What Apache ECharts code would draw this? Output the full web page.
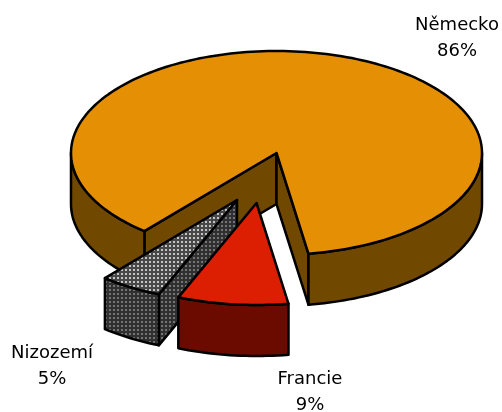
<!DOCTYPE html>
<html><head><meta charset="utf-8">
<style>html,body{margin:0;padding:0;background:#fff}#c{width:502px;height:412px}</style>
<script src="https://cdn.jsdelivr.net/npm/echarts@6/dist/echarts.min.js"></script>
</head><body><div id="c"></div>
<script>
var categories = ['Německo', 'Francie', 'Nizozemí'];
var values = [86.4, 8.7, 4.9];
var startAngle = 130;
var centerX = 276.5, centerY = 153, radiusX = 205.5, radiusY = 102, depth = 51;
var offsets = [[0, 0], [-20, 50], [-39.5, 47]];
var labelAnchors = [[457, 38], [310, 392], [52, 366]];
var layerOrder = [0, 2, 1];

function pattern(bg, dot) {
  var c = document.createElement('canvas');
  c.width = 4; c.height = 4;
  var g = c.getContext('2d');
  g.fillStyle = bg; g.fillRect(0, 0, 4, 4);
  g.fillStyle = dot; g.fillRect(1, 1, 2, 2);
  return c;
}
var topFills = ['#E59004', '#DC1E02', {image: pattern('#484848', '#c4c4c4'), repeat: 'repeat'}];
var wallFills = ['#714800', '#6B0B00', {image: pattern('#303030', '#747474'), repeat: 'repeat'}];

var total = values.reduce(function (a, b) { return a + b; }, 0);
var spans = [], acc = startAngle;
values.forEach(function (v) { var s = v / total * 360; spans.push([acc, acc + s]); acc += s; });

function pt(cx, cy, a) {
  var r = a * Math.PI / 180;
  return [cx + radiusX * Math.cos(r), cy + radiusY * Math.sin(r)];
}
function arcPts(cx, cy, a0, a1) {
  var n = Math.max(2, Math.ceil(Math.abs(a1 - a0) / 1.5)), out = [];
  for (var i = 0; i <= n; i++) out.push(pt(cx, cy, a0 + (a1 - a0) * i / n));
  return out;
}
function poly(points, fill, z2) {
  return {type: 'polygon', z2: z2, shape: {points: points},
    style: {fill: fill, stroke: '#000', lineWidth: 2.5, lineJoin: 'round'}};
}

function renderItem(params) {
  var i = params.dataIndex;
  var o = offsets[i], cx = centerX + o[0], cy = centerY + o[1];
  var a0 = spans[i][0], a1 = spans[i][1];
  var base = layerOrder.indexOf(i) * 10;
  var kids = [];
  // cut faces, only the ones turned towards the viewer
  function cutFace(a) {
    var p = pt(cx, cy, a);
    kids.push(poly([[cx, cy], p, [p[0], p[1] + depth], [cx, cy + depth]], wallFills[i], base + 1));
  }
  if (Math.cos(a0 * Math.PI / 180) < 0) cutFace(a0);
  if (Math.cos(a1 * Math.PI / 180) > 0) cutFace(a1);
  // outer rim, only where it faces the viewer
  [[0, 180], [360, 540]].forEach(function (f) {
    var s = Math.max(a0, f[0]), e = Math.min(a1, f[1]);
    if (e > s) {
      var top = arcPts(cx, cy, s, e);
      var bot = arcPts(cx, cy + depth, e, s);
      kids.push(poly(top.concat(bot), wallFills[i], base + 2));
    }
  });
  // top face
  kids.push(poly([[cx, cy]].concat(arcPts(cx, cy, a0, a1)), topFills[i], base + 3));
  // label
  kids.push({type: 'text', z2: 100, x: labelAnchors[i][0], y: labelAnchors[i][1],
    style: {text: categories[i] + '\n' + Math.round(values[i]) + '%',
      fill: '#000', font: '18px "DejaVu Sans"', align: 'center', verticalAlign: 'middle', lineHeight: 26}});
  return {type: 'group', children: kids};
}

var chart = echarts.init(document.getElementById('c'), null, {renderer: 'canvas'});
chart.setOption({
  animation: false,
  series: [{
    type: 'custom',
    coordinateSystem: 'none',
    renderItem: renderItem,
    data: values.map(function (v, i) { return [v, categories[i]]; })
  }]
});
</script></body></html>
